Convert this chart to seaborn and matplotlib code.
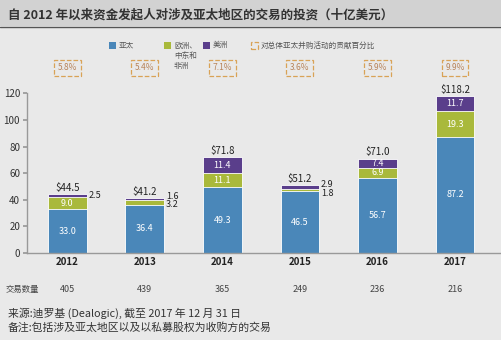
import matplotlib
matplotlib.use("Agg")
import matplotlib.pyplot as plt
import matplotlib.patches as mpatches
import seaborn as sns
import pandas as pd
import numpy as np

years = ["2012", "2013", "2014", "2015", "2016", "2017"]
apac = [33.0, 36.4, 49.3, 46.5, 56.7, 87.2]
emea = [9.0, 3.2, 11.1, 1.8, 6.9, 19.3]
americas = [2.5, 1.6, 11.4, 2.9, 7.4, 11.7]
totals = ["$44.5", "$41.2", "$71.8", "$51.2", "$71.0", "$118.2"]
shares = ["5.8%", "5.4%", "7.1%", "3.6%", "5.9%", "9.9%"]
deals = ["405", "439", "365", "249", "236", "216"]
yticks = [0, 20, 40, 60, 80, 100, 120]

title = "自 2012 年以来资金发起人对涉及亚太地区的交易的投资（十亿美元）"
leg_labels = ["亚太", "欧洲、\n中东和\n非洲", "美洲", "对总体亚太并购活动的贡献百分比"]
deal_label = "交易数量"
note1 = "来源:迪罗基 (Dealogic), 截至 2017 年 12 月 31 日"
note2 = "备注:包括涉及亚太地区以及以私募股权为收购方的交易"

C_BLUE = "#4a87b9"
C_GREEN = "#a9b93b"
C_PURPLE = "#5a3e8b"
C_ORANGE = "#d9a256"
BG = "#e9e9e9"

sns.set_theme(style="white")
plt.rcParams['font.family'] = ['Noto Sans CJK SC', 'DejaVu Sans']

df = pd.DataFrame({"year": years, "apac": apac, "emea": emea, "americas": americas})
df["c1"] = df["apac"]
df["c2"] = df["apac"] + df["emea"]
df["c3"] = df["c2"] + df["americas"]

fig = plt.figure(figsize=(5.02, 3.40), dpi=100, facecolor=BG)
# title bar
fig.patches.append(mpatches.Rectangle((0, 1 - 26 / 340), 1, 26 / 340, transform=fig.transFigure,
                                      facecolor="#d2d2d2", edgecolor="none", zorder=0))
fig.lines.append(plt.Line2D([0, 1], [1 - 27 / 340, 1 - 27 / 340], transform=fig.transFigure,
                            color="#555555", lw=1.0))
fig.text(8 / 502, 1 - 15 / 340, title, fontsize=9.0, fontweight="bold", color="#333333",
         va="center", ha="left")

ax = fig.add_axes([27 / 502, 1 - 253 / 340, (500 - 27) / 502, (253 - 93.3) / 340])
ax.set_facecolor(BG)

for col, colr in [("c3", C_PURPLE), ("c2", C_GREEN), ("c1", C_BLUE)]:
    sns.barplot(data=df, x="year", y=col, color=colr, width=0.5, saturation=1,
                errorbar=None, ax=ax, edgecolor="white", linewidth=0.6)

ax.set_xlim(-0.52, 5.58)
ax.set_ylim(0, 120)
ax.set_yticks(yticks)
ax.set_yticklabels([str(v) for v in yticks], fontsize=7, color="#333333")
ax.set_xlabel("")
ax.set_ylabel("")
ax.set_xticks(range(len(years)))
ax.set_xticklabels(years, fontsize=7, color="#222222", fontweight="bold")
ax.set_xticks(np.arange(0.5, len(years), 1.0), minor=True)
ax.tick_params(axis="x", which="major", length=0, pad=3)
ax.tick_params(axis="x", which="minor", length=4, color="#999999", direction="out")
ax.tick_params(axis="y", length=3, color="#999999", pad=2, left=True)
for s in ["top", "right"]:
    ax.spines[s].set_visible(False)
for s in ["left", "bottom"]:
    ax.spines[s].set_color("#999999")
    ax.spines[s].set_linewidth(1.0)

# segment labels
for i in range(len(years)):
    ax.text(i, apac[i] / 2, f"{apac[i]:.1f}", ha="center", va="center", color="white", fontsize=6.5)
    if emea[i] >= 5:
        ax.text(i, apac[i] + emea[i] / 2, f"{emea[i]:.1f}", ha="center", va="center",
                color="white", fontsize=6.5)
    if americas[i] >= 5:
        ax.text(i, apac[i] + emea[i] + americas[i] / 2, f"{americas[i]:.1f}", ha="center",
                va="center", color="white", fontsize=6.5)
    top = apac[i] + emea[i] + americas[i]
    ax.text(i, top + 0.8, totals[i], ha="center", va="bottom", color="#222222", fontsize=7)

# small segment labels outside
out_labels = {0: [(americas[0], 43.0)],
              1: [(americas[1], 42.6), (emea[1], 36.6)],
              3: [(americas[3], 51.2), (emea[3], 45.0)]}
for i, items in out_labels.items():
    for val, yv in items:
        ax.text(i + 0.27, yv, f"{val:.1f}", ha="left", va="center", color="#222222", fontsize=6.5)

# percent boxes (at ~68 px from top)
ypct = 1 + (93.3 - 68) / (253 - 93.3)
for i, s in enumerate(shares):
    ax.text(i, ypct, s, transform=ax.get_xaxis_transform(), ha="center", va="center",
            fontsize=6, color="#b8845a",
            bbox=dict(boxstyle="square,pad=0.45", fc="none", ec=C_ORANGE, ls="--", lw=0.9))

# deal counts row
fig.text(6 / 502, 1 - 289 / 340, deal_label, fontsize=6, color="#444444", va="center", ha="left")
for i, d in enumerate(deals):
    ax.text(i, -(289 - 253) / (253 - 93.3) * 120, d, ha="center", va="center",
            fontsize=6.5, color="#444444")

# legend
def leg_sq(x, color, dashed=False):
    if dashed:
        r = mpatches.Rectangle((x / 502, 1 - 49 / 340), 7 / 502, 7 / 340, transform=fig.transFigure,
                               facecolor="none", edgecolor=C_ORANGE, ls="--", lw=0.9)
    else:
        r = mpatches.Rectangle((x / 502, 1 - 49 / 340), 7 / 502, 7 / 340, transform=fig.transFigure,
                               facecolor=color, edgecolor="none")
    fig.patches.append(r)

leg_sq(109, C_BLUE)
fig.text(119 / 502, 1 - 45.5 / 340, leg_labels[0], fontsize=5.5, color="#555555", va="center")
leg_sq(164, C_GREEN)
fig.text(174 / 502, 1 - 41.5 / 340, leg_labels[1], fontsize=5.5, color="#555555", va="top",
         linespacing=1.35)
leg_sq(203, C_PURPLE)
fig.text(213 / 502, 1 - 45.5 / 340, leg_labels[2], fontsize=5.5, color="#555555", va="center")
leg_sq(251, None, dashed=True)
fig.text(261 / 502, 1 - 45.5 / 340, leg_labels[3], fontsize=5.5, color="#555555", va="center")

# notes
fig.text(8 / 502, 1 - 313 / 340, note1, fontsize=7.8, color="#333333", va="center", ha="left")
fig.text(8 / 502, 1 - 327 / 340, note2, fontsize=7.8, color="#333333", va="center", ha="left")

fig.savefig("out.png", dpi=100, facecolor=BG)
